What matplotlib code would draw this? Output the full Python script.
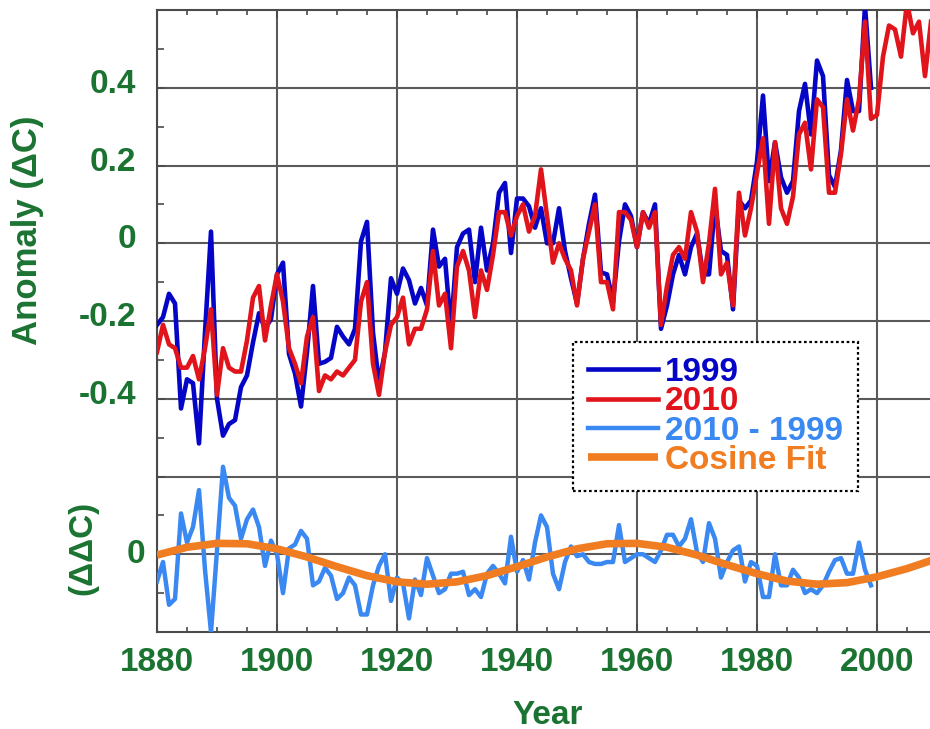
import numpy as np
import matplotlib
matplotlib.use('Agg')
import matplotlib.pyplot as plt
import matplotlib.transforms as mtransforms
from matplotlib.ticker import MultipleLocator

plt.rcParams['font.family'] = ['Liberation Sans', 'DejaVu Sans']
plt.rcParams['font.weight'] = 'bold'

# --- data ---
first_year = 1880

# 2010 version of the record, 1880-2009
anom_2010 = [
    -0.28, -0.21, -0.26, -0.27, -0.32, -0.32, -0.29, -0.35, -0.27, -0.17,
    -0.39, -0.27, -0.32, -0.33, -0.33, -0.25, -0.14, -0.11, -0.25, -0.16,
    -0.08, -0.15, -0.27, -0.31, -0.36, -0.24, -0.19, -0.38, -0.34, -0.35,
    -0.33, -0.34, -0.32, -0.30, -0.15, -0.10, -0.31, -0.39, -0.28, -0.21,
    -0.19, -0.14, -0.26, -0.22, -0.22, -0.17, -0.02, -0.16, -0.13, -0.27,
    -0.06, -0.02, -0.07, -0.19, -0.07, -0.12, -0.03, 0.08, 0.08, 0.02,
    0.07, 0.10, 0.03, 0.07, 0.19, 0.07, -0.05, 0.00, -0.04, -0.07,
    -0.16, -0.04, 0.03, 0.10, -0.10, -0.10, -0.17, 0.08, 0.08, 0.06,
    -0.01, 0.08, 0.04, 0.08, -0.21, -0.11, -0.03, -0.01, -0.04, 0.08,
    0.03, -0.10, 0.00, 0.14, -0.08, -0.05, -0.16, 0.13, 0.02, 0.09,
    0.18, 0.27, 0.05, 0.26, 0.09, 0.05, 0.12, 0.28, 0.31, 0.19,
    0.37, 0.35, 0.13, 0.13, 0.23, 0.37, 0.29, 0.37, 0.57, 0.32,
    0.33, 0.48, 0.56, 0.55, 0.48, 0.62, 0.54, 0.57, 0.43, 0.57,
]

# 1999 version of the record, 1880-1999
anom_1999 = [
    -0.21, -0.19, -0.13, -0.155, -0.425, -0.35, -0.36, -0.515, -0.23, 0.03,
    -0.40, -0.495, -0.465, -0.455, -0.37, -0.34, -0.255, -0.18, -0.22, -0.195,
    -0.08, -0.05, -0.285, -0.335, -0.42, -0.28, -0.11, -0.31, -0.305, -0.295,
    -0.215, -0.24, -0.26, -0.22, 0.005, 0.055, -0.23, -0.36, -0.28, -0.09,
    -0.13, -0.065, -0.095, -0.155, -0.115, -0.16, 0.035, -0.06, -0.04, -0.22,
    -0.01, 0.025, 0.035, -0.10, 0.04, -0.07, 0.00, 0.13, 0.155, -0.025,
    0.115, 0.115, 0.095, 0.04, 0.09, 0.00, 0.00, 0.09, -0.02, -0.09,
    -0.155, -0.04, 0.05, 0.125, -0.075, -0.08, -0.15, 0.005, 0.10, 0.07,
    -0.01, 0.08, 0.05, 0.10, -0.22, -0.16, -0.08, -0.03, -0.08, -0.01,
    0.025, -0.08, -0.08, 0.10, -0.02, -0.03, -0.17, 0.11, 0.09, 0.11,
    0.21, 0.38, 0.16, 0.26, 0.17, 0.13, 0.16, 0.34, 0.41, 0.28,
    0.47, 0.43, 0.175, 0.145, 0.24, 0.42, 0.34, 0.34, 0.61, 0.40,
]

# 2010 - 1999, 1880-1999
anom_diff = [
    -0.07, -0.02, -0.13, -0.115, 0.105, 0.03, 0.07, 0.165, -0.04, -0.20,
    0.01, 0.225, 0.145, 0.125, 0.04, 0.09, 0.115, 0.07, -0.03, 0.035,
    0.00, -0.10, 0.015, 0.025, 0.06, 0.04, -0.08, -0.07, -0.035, -0.055,
    -0.115, -0.10, -0.06, -0.08, -0.155, -0.155, -0.08, -0.03, 0.00, -0.12,
    -0.06, -0.075, -0.165, -0.065, -0.105, -0.01, -0.055, -0.10, -0.09, -0.05,
    -0.05, -0.045, -0.105, -0.09, -0.11, -0.05, -0.03, -0.05, -0.075, 0.045,
    -0.045, -0.015, -0.065, 0.03, 0.10, 0.07, -0.05, -0.09, -0.02, 0.02,
    -0.005, 0.00, -0.02, -0.025, -0.025, -0.02, -0.02, 0.075, -0.02, -0.01,
    0.00, 0.00, -0.01, -0.02, 0.01, 0.05, 0.05, 0.02, 0.04, 0.09,
    0.005, -0.02, 0.08, 0.04, -0.06, -0.02, 0.01, 0.02, -0.07, -0.02,
    -0.03, -0.11, -0.11, 0.00, -0.08, -0.08, -0.04, -0.06, -0.10, -0.09,
    -0.10, -0.08, -0.045, -0.015, -0.01, -0.05, -0.05, 0.03, -0.04, -0.08,
]

# cosine fit, read every 5 years 1880-2010
fit_years = list(range(1880, 2011, 5))
fit_values = [
    -0.002, 0.018, 0.028, 0.027, 0.014, -0.007, -0.032, -0.055, -0.071,
    -0.077, -0.071, -0.055, -0.032, -0.007, 0.014, 0.027, 0.028, 0.018,
    -0.002, -0.027, -0.050, -0.069, -0.077, -0.073, -0.058, -0.037, -0.011,
]

years_2010 = np.arange(first_year, first_year + len(anom_2010))
years_1999 = np.arange(first_year, first_year + len(anom_1999))

DIFF_BASE = -0.8   # the lower strip is drawn around this level

BLUE = '#0505C8'
RED = '#E0141A'
LIGHT = '#3A88F2'
ORANGE = '#F07D22'
GREEN = '#1B7332'
GRID = '#5a5a5a'

W, H = 930, 729
fig = plt.figure(figsize=(W / 100, H / 100), dpi=100)
ax = fig.add_axes([157 / W, 97 / H, 780 / W, 622 / H])

ax.plot(years_1999, anom_1999, color=BLUE, lw=3.3, label='1999', zorder=3)
ax.plot(years_2010, anom_2010, color=RED, lw=3.3, label='2010', zorder=4)
ax.plot(years_1999, np.array(anom_diff) + DIFF_BASE, color=LIGHT, lw=3.2,
        label='2010 - 1999', zorder=5)
ax.plot(fit_years, np.array(fit_values) + DIFF_BASE, color=ORANGE, lw=5.5,
        label='Cosine Fit', zorder=6, solid_capstyle='butt')

ax.set_xlim(1880, 2010)
ax.set_ylim(-1.0, 0.6)

ax.xaxis.set_major_locator(MultipleLocator(20))
ax.xaxis.set_minor_locator(MultipleLocator(5))
ax.set_yticks([-0.8, -0.6, -0.4, -0.2, 0, 0.2, 0.4])
ax.set_yticklabels(['', '', '-0.4', '-0.2', '0', '0.2', '0.4'])
ax.yaxis.set_minor_locator(MultipleLocator(0.1))

ax.grid(True, which='major', color=GRID, lw=1.5, zorder=1)
ax.set_axisbelow(True)
for side in ['left', 'bottom', 'top']:
    ax.spines[side].set_color('#4a4a4a')
    ax.spines[side].set_linewidth(1.5)
ax.spines['right'].set_visible(False)

ax.tick_params(which='both', direction='in', top=True, right=False,
               color='#4a4a4a', labelcolor=GREEN, labelsize=24, width=1.2)
ax.tick_params(axis='x', which='major', length=6, pad=11)
ax.tick_params(axis='x', which='minor', length=3.5)
ax.tick_params(axis='y', which='major', length=6, pad=15)
ax.tick_params(axis='y', which='minor', length=5)

# the anomaly labels sit a little above their grid lines
lift = mtransforms.ScaledTranslation(0, 5 / 72, fig.dpi_scale_trans)
for lab in ax.get_yticklabels():
    lab.set_transform(lab.get_transform() + lift)

# zero label of the difference strip
ax.text(-12 / 780, DIFF_BASE, '0', transform=ax.get_yaxis_transform(),
        ha='right', va='center', fontsize=24, color=GREEN, fontweight='bold')

fig.text(28 / W, 1 - 230 / H, 'Anomaly (\u0394C)', rotation=90, ha='center',
         va='center', fontsize=25, color=GREEN, fontweight='bold')
fig.text(83 / W, 1 - 548 / H, '(\u0394\u0394C)', rotation=90, ha='center',
         va='center', fontsize=24, color=GREEN, fontweight='bold')
fig.text(548 / W, 1 - 715 / H, 'Year', ha='center', va='center',
         fontsize=24, color=GREEN, fontweight='bold')

leg = ax.legend(loc='upper left', bbox_to_anchor=(573 / W, 1 - 342 / H),
                bbox_transform=fig.transFigure, borderaxespad=0,
                fontsize=24, handlelength=2.1, handletextpad=0.2,
                labelspacing=-0.05, borderpad=0.45, fancybox=False,
                framealpha=1, edgecolor='black', labelcolor='linecolor')
frame = leg.get_frame()
frame.set_linestyle((0, (1.2, 1.2)))
frame.set_linewidth(1.6)
leg.set_zorder(10)

fig.savefig('out.png', dpi=100)
